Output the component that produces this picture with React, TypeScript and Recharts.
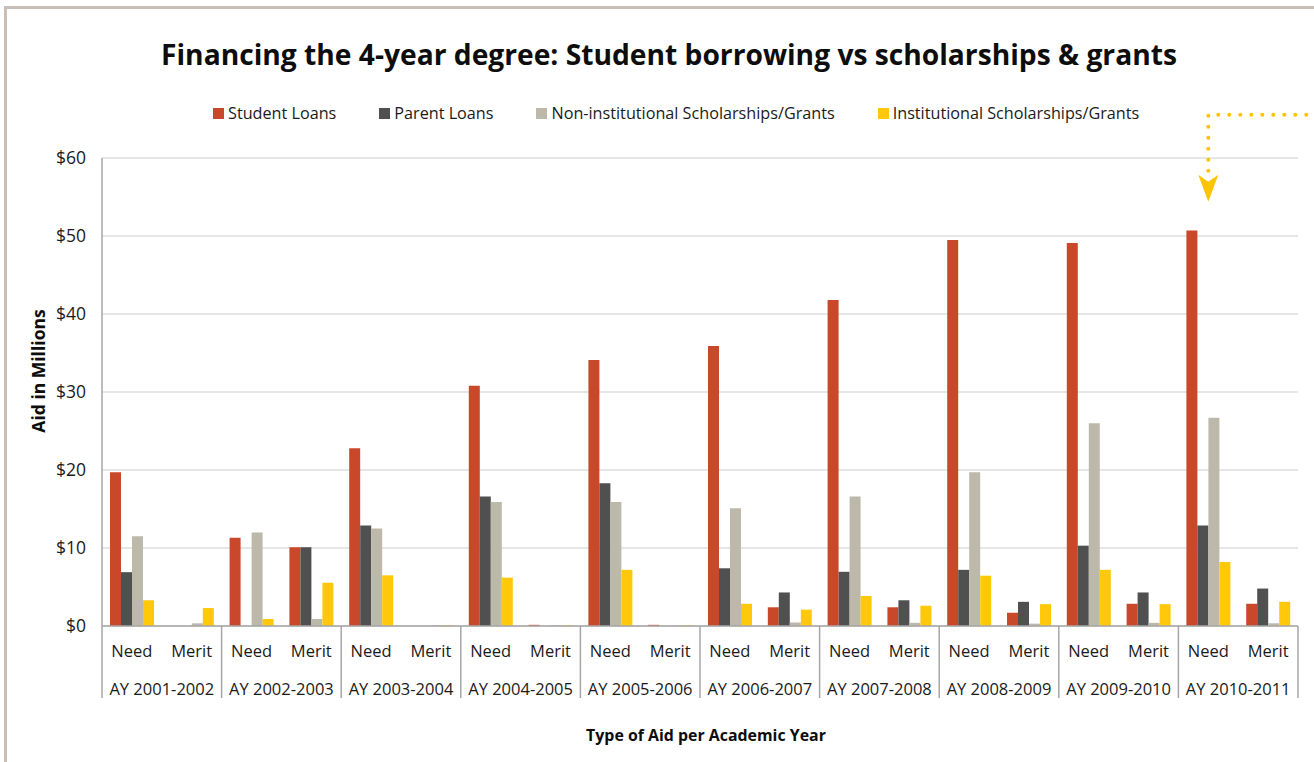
import React from "react";
import { BarChart, Bar, XAxis, YAxis, CartesianGrid, ReferenceDot, Label } from "recharts";

const years = [
  "AY 2001-2002", "AY 2002-2003", "AY 2003-2004", "AY 2004-2005", "AY 2005-2006",
  "AY 2006-2007", "AY 2007-2008", "AY 2008-2009", "AY 2009-2010", "AY 2010-2011",
];
const aidTypes = ["Need", "Merit"];
const yTicks = [0, 10, 20, 30, 40, 50, 60];

const studentLoans = [19.7, 0, 11.3, 10.1, 22.8, 0, 30.8, 0.15, 34.1, 0.15, 35.9, 2.4, 41.8, 2.4, 49.5, 1.7, 49.1, 2.85, 50.7, 2.85];
const parentLoans = [6.9, 0, 0, 10.1, 12.9, 0, 16.6, 0, 18.3, 0, 7.4, 4.3, 6.95, 3.3, 7.2, 3.1, 10.3, 4.3, 12.9, 4.8];
const nonInstGrants = [11.5, 0.35, 12.0, 0.9, 12.5, 0.1, 15.9, 0.1, 15.9, 0.05, 15.1, 0.45, 16.6, 0.4, 19.7, 0.3, 26.0, 0.4, 26.7, 0.35];
const instGrants = [3.3, 2.3, 0.9, 5.55, 6.5, 0.1, 6.2, 0.1, 7.2, 0.1, 2.85, 2.1, 3.85, 2.6, 6.45, 2.8, 7.2, 2.8, 8.2, 3.1];

const seriesNames = [
  "Student Loans",
  "Parent Loans",
  "Non-institutional Scholarships/Grants",
  "Institutional Scholarships/Grants",
];
const COLORS = ["#C9482A", "#505050", "#BCB9AA", "#FFC80A"];
const ARROW = "#FFC400";
const FONT = "'Open Sans', sans-serif";

const data = years.flatMap((year, yi) =>
  aidTypes.map((type, ti) => {
    const i = yi * 2 + ti;
    return {
      key: `${type}|${year}`,
      type,
      year,
      student: studentLoans[i],
      parent: parentLoans[i],
      nonInst: nonInstGrants[i],
      inst: instGrants[i],
    };
  })
);

const W = 1314;
const H = 762;
const PLOT_LEFT = 102;
const PLOT_RIGHT = 1298;
const AX1_H = 40;
const AX2_H = 36;
const YEAR_HALF = (PLOT_RIGHT - PLOT_LEFT) / years.length / 2;

const TypeTick = (props: any) => {
  const { x, y, payload } = props;
  const label = String(payload.value).split("|")[0];
  return (
    <text x={x} y={y + 24} textAnchor="middle" dominantBaseline="central"
      fontFamily={FONT} fontSize={16.5} fill="#1a1a1a">
      {label}
    </text>
  );
};

const YearTick = (props: any) => {
  const { x, y, payload, index } = props;
  const half = YEAR_HALF;
  return (
    <g>
      <line x1={x - half} x2={x - half} y1={y - AX1_H} y2={y + 32} stroke="#a6a6a6" strokeWidth={1.5} />
      {index === years.length - 1 && (
        <line x1={x + half} x2={x + half} y1={y - AX1_H} y2={y + 32} stroke="#a6a6a6" strokeWidth={1.5} />
      )}
      <text x={x} y={y + 22} textAnchor="middle" dominantBaseline="central"
        fontFamily={FONT} fontSize={16.5} fill="#1a1a1a">
        {payload.value}
      </text>
    </g>
  );
};

const ArrowShape = (props: any) => {
  const { cx, cy } = props;
  const headTop = cy - 27;
  const top = cy - 87;
  return (
    <g>
      <polyline
        points={`${cx},${headTop - 4} ${cx},${top} ${cx + 120},${top}`}
        fill="none" stroke={ARROW} strokeWidth={4} strokeLinecap="round"
        strokeDasharray="0 11" />
      <polygon
        points={`${cx - 10},${headTop} ${cx},${headTop + 7} ${cx + 10},${headTop} ${cx},${cy}`}
        fill={ARROW} />
    </g>
  );
};

export default function App() {
  return (
    <div style={{ position: "relative", width: W, height: H, background: "#fff", overflow: "hidden" }}>
      <style>{`body{margin:0;background:#fff;}`}</style>
      <div style={{ position: "absolute", left: 4, top: 6, width: W, height: H, borderLeft: "3px solid #c8c0b8", borderTop: "3px solid #c8c0b8" }} />
      <div style={{ position: "absolute", left: 0, top: 33, width: 1338, textAlign: "center", fontFamily: FONT, fontWeight: 700, fontSize: 28.2, color: "#0d0d0d", lineHeight: "42px" }}>
        Financing the 4-year degree: Student borrowing vs scholarships &amp; grants
      </div>
      <div style={{ position: "absolute", left: 213, top: 101, display: "flex", alignItems: "center", fontFamily: FONT, fontSize: 16.2, color: "#1a1a1a", lineHeight: "24px" }}>
        {seriesNames.map((n, i) => (
          <div key={n} style={{ display: "flex", alignItems: "center", marginRight: 43 }}>
            <span style={{ display: "inline-block", width: 11, height: 11, background: COLORS[i], marginRight: 4 }} />
            <span>{n}</span>
          </div>
        ))}
      </div>
      <div style={{ position: "absolute", left: 0, top: 0 }}>
        <BarChart width={W} height={H} data={data}
          margin={{ top: 158, right: W - PLOT_RIGHT, bottom: 60, left: 0 }}
          barCategoryGap={8} barGap={0}>
          <CartesianGrid vertical={false} stroke="#dedede" strokeWidth={1.5} />
          <YAxis width={PLOT_LEFT} domain={[0, 60]} ticks={yTicks} interval={0}
            tickFormatter={(v: number) => `$${v}`} tickLine={false} tickSize={0} tickMargin={16}
            axisLine={{ stroke: "#a6a6a6", strokeWidth: 1.5 }}
            tick={{ fontFamily: FONT, fontSize: 17.5, fill: "#1a1a1a" }}>
            <Label content={(p: any) => {
              const vb = p.viewBox;
              const cx = vb.x + 38;
              const cy = vb.y + vb.height / 2 - 21;
              return (
                <text x={cx} y={cy} transform={`rotate(-90 ${cx} ${cy})`} textAnchor="middle"
                  dominantBaseline="central" fontFamily={FONT} fontWeight={700} fontSize={17.5} fill="#0d0d0d">
                  Aid in Millions
                </text>
              );
            }} />
          </YAxis>
          <XAxis dataKey="key" height={AX1_H} interval={0} tick={<TypeTick />}
            tickLine={false} tickSize={0} tickMargin={0}
            axisLine={{ stroke: "#a6a6a6", strokeWidth: 1.5 }} />
          <XAxis xAxisId="year" dataKey="year" allowDuplicatedCategory={false} height={AX2_H}
            interval={0} tick={<YearTick />} tickLine={false} tickSize={0} tickMargin={0} axisLine={false}>
            <Label content={(p: any) => {
              const vb = p.viewBox;
              return (
                <text x={vb.x + vb.width / 2 + 6} y={vb.y + 69} textAnchor="middle" dominantBaseline="central"
                  fontFamily={FONT} fontWeight={700} fontSize={15.9} fill="#0d0d0d">
                  Type of Aid per Academic Year
                </text>
              );
            }} />
          </XAxis>
          <Bar dataKey="student" name={seriesNames[0]} fill={COLORS[0]} isAnimationActive={false} />
          <Bar dataKey="parent" name={seriesNames[1]} fill={COLORS[1]} isAnimationActive={false} />
          <Bar dataKey="nonInst" name={seriesNames[2]} fill={COLORS[2]} isAnimationActive={false} />
          <Bar dataKey="inst" name={seriesNames[3]} fill={COLORS[3]} isAnimationActive={false} />
          <ReferenceDot x={`Need|${years[9]}`} y={54.4} ifOverflow="visible" shape={<ArrowShape />} />
        </BarChart>
      </div>
    </div>
  );
}
